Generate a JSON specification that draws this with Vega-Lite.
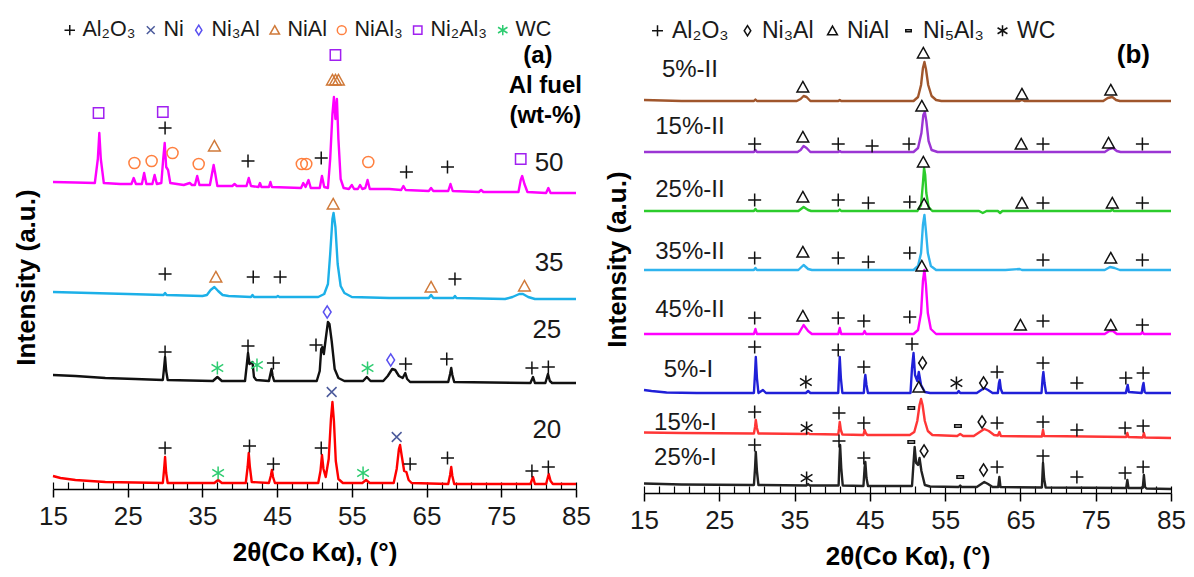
{
"$schema":"https://vega.github.io/schema/vega-lite/v6.json",
"padding":{"left":13,"top":8,"right":0,"bottom":0},
"spacing":13,
"config":{"font":"Liberation Sans","view":{"stroke":null},"axis":{"grid":false,"domainColor":"#000","tickColor":"#000","labelColor":"#1a1a1a","titleColor":"#000"}},
"datasets":{
"la":[
{"s":"50","x":15,"y":307},{"s":"50","x":18,"y":306.5},{"s":"50","x":20.6,"y":306},{"s":"50","x":21.0,"y":330},{"s":"50","x":21.2,"y":356},{"s":"50","x":21.4,"y":330},{"s":"50","x":21.8,"y":306},{"s":"50","x":24,"y":305},{"s":"50","x":25.5,"y":305},{"s":"50","x":25.8,"y":311},{"s":"50","x":26.1,"y":305},{"s":"50","x":26.9,"y":305},{"s":"50","x":27.2,"y":316},{"s":"50","x":27.5,"y":305},{"s":"50","x":28.3,"y":305},{"s":"50","x":28.6,"y":314},{"s":"50","x":28.9,"y":305},{"s":"50","x":29.5,"y":306},{"s":"50","x":29.75,"y":330},{"s":"50","x":29.95,"y":346},{"s":"50","x":30.15,"y":322},{"s":"50","x":30.4,"y":319},{"s":"50","x":30.7,"y":306},{"s":"50","x":32.5,"y":304},{"s":"50","x":33.3,"y":306},{"s":"50","x":33.6,"y":304},{"s":"50","x":34.0,"y":304},{"s":"50","x":34.3,"y":313},{"s":"50","x":34.6,"y":304},{"s":"50","x":36.0,"y":304},{"s":"50","x":36.3,"y":316},{"s":"50","x":36.5,"y":324},{"s":"50","x":36.7,"y":316},{"s":"50","x":37.0,"y":303},{"s":"50","x":39.0,"y":303},{"s":"50","x":39.3,"y":305},{"s":"50","x":39.6,"y":303},{"s":"50","x":40.9,"y":303},{"s":"50","x":41.2,"y":311},{"s":"50","x":41.5,"y":303},{"s":"50","x":42.5,"y":302},{"s":"50","x":42.7,"y":306},{"s":"50","x":42.9,"y":302},{"s":"50","x":43.9,"y":302},{"s":"50","x":44.1,"y":307},{"s":"50","x":44.3,"y":302},{"s":"50","x":48.2,"y":301},{"s":"50","x":48.5,"y":306},{"s":"50","x":48.8,"y":302},{"s":"50","x":49.2,"y":309},{"s":"50","x":49.5,"y":301},{"s":"50","x":50.7,"y":301},{"s":"50","x":51.0,"y":313},{"s":"50","x":51.3,"y":302},{"s":"50","x":51.8,"y":301},{"s":"50","x":52.1,"y":330},{"s":"50","x":52.4,"y":375},{"s":"50","x":52.6,"y":392},{"s":"50","x":52.8,"y":370},{"s":"50","x":53.0,"y":390},{"s":"50","x":53.2,"y":350},{"s":"50","x":53.5,"y":310},{"s":"50","x":53.9,"y":301},{"s":"50","x":54.6,"y":300},{"s":"50","x":55.0,"y":304},{"s":"50","x":55.3,"y":300},{"s":"50","x":55.8,"y":300},{"s":"50","x":56.1,"y":304},{"s":"50","x":56.4,"y":300},{"s":"50","x":56.8,"y":301},{"s":"50","x":57.1,"y":309},{"s":"50","x":57.4,"y":300},{"s":"50","x":60,"y":300},{"s":"50","x":61.6,"y":299},{"s":"50","x":61.9,"y":303},{"s":"50","x":62.2,"y":299},{"s":"50","x":65.3,"y":298},{"s":"50","x":65.6,"y":301},{"s":"50","x":65.9,"y":298},{"s":"50","x":67.9,"y":298},{"s":"50","x":68.2,"y":305},{"s":"50","x":68.5,"y":298},{"s":"50","x":72,"y":297},{"s":"50","x":72.3,"y":299},{"s":"50","x":72.6,"y":297},{"s":"50","x":77.3,"y":297},{"s":"50","x":77.6,"y":309},{"s":"50","x":77.8,"y":313},{"s":"50","x":78.1,"y":305},{"s":"50","x":78.5,"y":297},{"s":"50","x":81.0,"y":296},{"s":"50","x":81.3,"y":301},{"s":"50","x":81.6,"y":296},{"s":"50","x":85,"y":296},
{"s":"35","x":15,"y":197},{"s":"35","x":20,"y":196},{"s":"35","x":25,"y":195},{"s":"35","x":29.8,"y":194},{"s":"35","x":30.0,"y":196},{"s":"35","x":30.2,"y":194},{"s":"35","x":35.0,"y":193},{"s":"35","x":35.6,"y":194},{"s":"35","x":36.1,"y":199},{"s":"35","x":36.6,"y":202},{"s":"35","x":37.1,"y":198},{"s":"35","x":37.7,"y":194},{"s":"35","x":38.5,"y":193},{"s":"35","x":41.5,"y":192},{"s":"35","x":41.7,"y":194},{"s":"35","x":41.9,"y":192},{"s":"35","x":44.9,"y":192},{"s":"35","x":45.1,"y":193},{"s":"35","x":45.3,"y":192},{"s":"35","x":50.5,"y":192},{"s":"35","x":51.3,"y":195},{"s":"35","x":51.8,"y":205},{"s":"35","x":52.1,"y":235},{"s":"35","x":52.4,"y":270},{"s":"35","x":52.55,"y":276},{"s":"35","x":52.8,"y":262},{"s":"35","x":53.1,"y":225},{"s":"35","x":53.5,"y":203},{"s":"35","x":54.0,"y":196},{"s":"35","x":55.0,"y":192},{"s":"35","x":60,"y":191},{"s":"35","x":65.3,"y":191},{"s":"35","x":65.6,"y":194},{"s":"35","x":65.9,"y":191},{"s":"35","x":68.6,"y":191},{"s":"35","x":68.8,"y":193},{"s":"35","x":69.0,"y":191},{"s":"35","x":75.5,"y":190},{"s":"35","x":76.5,"y":192},{"s":"35","x":77.4,"y":195},{"s":"35","x":77.9,"y":195},{"s":"35","x":78.6,"y":192},{"s":"35","x":79.5,"y":190},{"s":"35","x":85,"y":190},
{"s":"25","x":15,"y":114},{"s":"25","x":18,"y":113},{"s":"25","x":22,"y":111},{"s":"25","x":26,"y":110},{"s":"25","x":29.7,"y":109},{"s":"25","x":29.85,"y":120},{"s":"25","x":30.0,"y":132},{"s":"25","x":30.15,"y":118},{"s":"25","x":30.35,"y":109},{"s":"25","x":36.4,"y":108},{"s":"25","x":37.0,"y":112},{"s":"25","x":37.6,"y":108},{"s":"25","x":40.7,"y":108},{"s":"25","x":40.95,"y":125},{"s":"25","x":41.1,"y":136},{"s":"25","x":41.3,"y":125},{"s":"25","x":41.55,"y":126},{"s":"25","x":41.7,"y":127},{"s":"25","x":41.9,"y":112},{"s":"25","x":42.2,"y":109},{"s":"25","x":43.9,"y":108},{"s":"25","x":44.1,"y":115},{"s":"25","x":44.25,"y":120},{"s":"25","x":44.4,"y":113},{"s":"25","x":44.6,"y":108},{"s":"25","x":50.3,"y":108},{"s":"25","x":50.7,"y":118},{"s":"25","x":50.9,"y":140},{"s":"25","x":51.05,"y":142},{"s":"25","x":51.25,"y":135},{"s":"25","x":51.5,"y":150},{"s":"25","x":51.8,"y":167},{"s":"25","x":52.0,"y":165},{"s":"25","x":52.3,"y":148},{"s":"25","x":52.7,"y":120},{"s":"25","x":53.2,"y":111},{"s":"25","x":54,"y":108},{"s":"25","x":56.5,"y":108},{"s":"25","x":57.0,"y":112},{"s":"25","x":57.5,"y":108},{"s":"25","x":59.2,"y":108},{"s":"25","x":59.8,"y":113},{"s":"25","x":60.4,"y":120},{"s":"25","x":60.8,"y":119},{"s":"25","x":61.3,"y":113},{"s":"25","x":61.8,"y":111},{"s":"25","x":62.15,"y":116},{"s":"25","x":62.4,"y":110},{"s":"25","x":62.8,"y":107},{"s":"25","x":67.9,"y":107},{"s":"25","x":68.15,"y":115},{"s":"25","x":68.3,"y":121},{"s":"25","x":68.45,"y":114},{"s":"25","x":68.7,"y":107},{"s":"25","x":78.9,"y":106},{"s":"25","x":79.25,"y":112},{"s":"25","x":79.5,"y":106},{"s":"25","x":80.9,"y":106},{"s":"25","x":81.25,"y":115},{"s":"25","x":81.5,"y":108},{"s":"25","x":81.8,"y":106},{"s":"25","x":85,"y":106},
{"s":"20","x":15,"y":13},{"s":"20","x":16,"y":11},{"s":"20","x":18,"y":9},{"s":"20","x":22,"y":7},{"s":"20","x":26,"y":6.5},{"s":"20","x":29.7,"y":6},{"s":"20","x":29.85,"y":18},{"s":"20","x":30.0,"y":32},{"s":"20","x":30.15,"y":16},{"s":"20","x":30.35,"y":6},{"s":"20","x":36.6,"y":6},{"s":"20","x":37.1,"y":9},{"s":"20","x":37.6,"y":6},{"s":"20","x":40.8,"y":6},{"s":"20","x":41.05,"y":22},{"s":"20","x":41.2,"y":36},{"s":"20","x":41.35,"y":22},{"s":"20","x":41.6,"y":7},{"s":"20","x":43.9,"y":6},{"s":"20","x":44.15,"y":13},{"s":"20","x":44.3,"y":19},{"s":"20","x":44.45,"y":12},{"s":"20","x":44.7,"y":6},{"s":"20","x":50.5,"y":6},{"s":"20","x":50.8,"y":18},{"s":"20","x":51.0,"y":34},{"s":"20","x":51.2,"y":20},{"s":"20","x":51.5,"y":12},{"s":"20","x":51.9,"y":30},{"s":"20","x":52.2,"y":70},{"s":"20","x":52.4,"y":87},{"s":"20","x":52.6,"y":68},{"s":"20","x":52.85,"y":28},{"s":"20","x":53.2,"y":10},{"s":"20","x":53.8,"y":6},{"s":"20","x":56.4,"y":6},{"s":"20","x":56.9,"y":9},{"s":"20","x":57.4,"y":6},{"s":"20","x":60.6,"y":6},{"s":"20","x":61.0,"y":20},{"s":"20","x":61.3,"y":40},{"s":"20","x":61.45,"y":44},{"s":"20","x":61.7,"y":32},{"s":"20","x":62.0,"y":18},{"s":"20","x":62.3,"y":17},{"s":"20","x":62.6,"y":9},{"s":"20","x":63.0,"y":6},{"s":"20","x":67.9,"y":5},{"s":"20","x":68.15,"y":14},{"s":"20","x":68.3,"y":22},{"s":"20","x":68.45,"y":13},{"s":"20","x":68.7,"y":5},{"s":"20","x":78.9,"y":5},{"s":"20","x":79.25,"y":12},{"s":"20","x":79.5,"y":5},{"s":"20","x":81.0,"y":5},{"s":"20","x":81.35,"y":15},{"s":"20","x":81.6,"y":8},{"s":"20","x":81.9,"y":5},{"s":"20","x":85,"y":5}
],
"ma":[
{"ph":"Ni₂Al₃","x":21.1,"y":376},{"ph":"Ni₂Al₃","x":29.7,"y":377},{"ph":"Ni₂Al₃","x":52.8,"y":434},{"ph":"Ni₂Al₃","x":77.6,"y":330},
{"ph":"NiAl","x":52.4,"y":409},{"ph":"NiAl","x":52.8,"y":409},{"ph":"NiAl","x":53.2,"y":409},{"ph":"NiAl","x":36.6,"y":343},
{"ph":"NiAl₃","x":25.9,"y":326},{"ph":"NiAl₃","x":28.2,"y":328},{"ph":"NiAl₃","x":31.0,"y":336},{"ph":"NiAl₃","x":34.5,"y":325},{"ph":"NiAl₃","x":48.3,"y":325},{"ph":"NiAl₃","x":48.9,"y":325},{"ph":"NiAl₃","x":57.2,"y":327},
{"ph":"Al₂O₃","x":30.0,"y":361},{"ph":"Al₂O₃","x":41.1,"y":328},{"ph":"Al₂O₃","x":50.9,"y":331},{"ph":"Al₂O₃","x":62.3,"y":317},{"ph":"Al₂O₃","x":67.8,"y":322},
{"ph":"Al₂O₃","x":30.0,"y":215},{"ph":"Al₂O₃","x":41.8,"y":212},{"ph":"Al₂O₃","x":45.4,"y":212},{"ph":"Al₂O₃","x":68.8,"y":210},
{"ph":"NiAl","x":36.8,"y":212},{"ph":"NiAl","x":52.5,"y":285},{"ph":"NiAl","x":65.6,"y":202},{"ph":"NiAl","x":78.1,"y":203},
{"ph":"Al₂O₃","x":30.0,"y":137},{"ph":"Al₂O₃","x":41.1,"y":143},{"ph":"Al₂O₃","x":44.5,"y":126},{"ph":"Al₂O₃","x":50.2,"y":144},{"ph":"Al₂O₃","x":62.2,"y":125},{"ph":"Al₂O₃","x":67.7,"y":130},{"ph":"Al₂O₃","x":79.1,"y":121},{"ph":"Al₂O₃","x":81.3,"y":122},
{"ph":"WC","x":37.0,"y":121},{"ph":"WC","x":42.3,"y":124},{"ph":"WC","x":57.1,"y":121},
{"ph":"Ni₃Al","x":51.7,"y":177},{"ph":"Ni₃Al","x":60.2,"y":129},
{"ph":"Al₂O₃","x":30.0,"y":41},{"ph":"Al₂O₃","x":41.3,"y":43},{"ph":"Al₂O₃","x":44.5,"y":25},{"ph":"Al₂O₃","x":50.9,"y":41},{"ph":"Al₂O₃","x":62.8,"y":25},{"ph":"Al₂O₃","x":67.8,"y":31},{"ph":"Al₂O₃","x":79.1,"y":18},{"ph":"Al₂O₃","x":81.3,"y":22},
{"ph":"WC","x":37.1,"y":16},{"ph":"WC","x":56.5,"y":16},
{"ph":"Ni","x":52.3,"y":97},{"ph":"Ni","x":61.0,"y":52}
],
"ta":[{"t":"50","x":81.4,"y":326},{"t":"35","x":81.4,"y":226},{"t":"25","x":81.1,"y":159},{"t":"20","x":81.1,"y":59}],
"tab":[{"t":"(a)","x":79.9,"y":433},{"t":"Al fuel","x":80.9,"y":403},{"t":"(wt-%)","x":80.9,"y":373}],
"lb":[
{"s":"5%-II","x":15,"y":393},{"s":"5%-II","x":20,"y":392},{"s":"5%-II","x":29.6,"y":392},{"s":"5%-II","x":29.8,"y":393.5},{"s":"5%-II","x":30.0,"y":392},{"s":"5%-II","x":35.3,"y":392},{"s":"5%-II","x":35.8,"y":394},{"s":"5%-II","x":36.2,"y":397},{"s":"5%-II","x":36.6,"y":396},{"s":"5%-II","x":37.1,"y":392},{"s":"5%-II","x":40.8,"y":392},{"s":"5%-II","x":41.0,"y":393},{"s":"5%-II","x":41.2,"y":392},{"s":"5%-II","x":50.8,"y":392},{"s":"5%-II","x":51.4,"y":396},{"s":"5%-II","x":51.8,"y":408},{"s":"5%-II","x":52.05,"y":425},{"s":"5%-II","x":52.25,"y":431},{"s":"5%-II","x":52.45,"y":424},{"s":"5%-II","x":52.75,"y":408},{"s":"5%-II","x":53.2,"y":397},{"s":"5%-II","x":53.8,"y":393},{"s":"5%-II","x":54.5,"y":392},{"s":"5%-II","x":64.9,"y":392},{"s":"5%-II","x":65.2,"y":393},{"s":"5%-II","x":65.5,"y":392},{"s":"5%-II","x":76.0,"y":392},{"s":"5%-II","x":76.6,"y":395},{"s":"5%-II","x":77.2,"y":396},{"s":"5%-II","x":77.7,"y":393},{"s":"5%-II","x":78.2,"y":392},{"s":"5%-II","x":85,"y":392},
{"s":"15%-II","x":15,"y":341},{"s":"15%-II","x":29.6,"y":341},{"s":"15%-II","x":29.8,"y":343},{"s":"15%-II","x":30.0,"y":341},{"s":"15%-II","x":35.4,"y":341},{"s":"15%-II","x":35.8,"y":343},{"s":"15%-II","x":36.2,"y":347},{"s":"15%-II","x":36.6,"y":345},{"s":"15%-II","x":37.1,"y":341},{"s":"15%-II","x":40.8,"y":341},{"s":"15%-II","x":41.0,"y":342},{"s":"15%-II","x":41.2,"y":341},{"s":"15%-II","x":50.8,"y":341},{"s":"15%-II","x":51.4,"y":345},{"s":"15%-II","x":51.85,"y":360},{"s":"15%-II","x":52.1,"y":378},{"s":"15%-II","x":52.3,"y":381},{"s":"15%-II","x":52.5,"y":372},{"s":"15%-II","x":52.8,"y":352},{"s":"15%-II","x":53.2,"y":343},{"s":"15%-II","x":54,"y":341},{"s":"15%-II","x":76.2,"y":341},{"s":"15%-II","x":76.8,"y":344},{"s":"15%-II","x":77.3,"y":345},{"s":"15%-II","x":77.8,"y":342},{"s":"15%-II","x":78.3,"y":341},{"s":"15%-II","x":85,"y":341},
{"s":"25%-II","x":15,"y":282},{"s":"25%-II","x":29.6,"y":282},{"s":"25%-II","x":29.8,"y":284},{"s":"25%-II","x":30.0,"y":282},{"s":"25%-II","x":35.5,"y":282},{"s":"25%-II","x":36.2,"y":286},{"s":"25%-II","x":36.8,"y":283},{"s":"25%-II","x":37.2,"y":282},{"s":"25%-II","x":40.8,"y":282},{"s":"25%-II","x":41.0,"y":283.5},{"s":"25%-II","x":41.2,"y":282},{"s":"25%-II","x":51.3,"y":282},{"s":"25%-II","x":51.8,"y":288},{"s":"25%-II","x":52.05,"y":310},{"s":"25%-II","x":52.2,"y":325},{"s":"25%-II","x":52.35,"y":318},{"s":"25%-II","x":52.5,"y":300},{"s":"25%-II","x":52.8,"y":286},{"s":"25%-II","x":53.3,"y":282},{"s":"25%-II","x":59.5,"y":282},{"s":"25%-II","x":60,"y":280},{"s":"25%-II","x":60.5,"y":282},{"s":"25%-II","x":62,"y":282},{"s":"25%-II","x":62.3,"y":280},{"s":"25%-II","x":62.6,"y":282},{"s":"25%-II","x":77,"y":282},{"s":"25%-II","x":77.2,"y":284},{"s":"25%-II","x":77.4,"y":282},{"s":"25%-II","x":85,"y":282},
{"s":"35%-II","x":15,"y":223},{"s":"35%-II","x":29.6,"y":223},{"s":"35%-II","x":29.8,"y":225},{"s":"35%-II","x":30.0,"y":223},{"s":"35%-II","x":35.5,"y":223},{"s":"35%-II","x":36.2,"y":228},{"s":"35%-II","x":36.8,"y":224},{"s":"35%-II","x":37.3,"y":223},{"s":"35%-II","x":50.8,"y":223},{"s":"35%-II","x":51.4,"y":227},{"s":"35%-II","x":51.8,"y":240},{"s":"35%-II","x":52.05,"y":268},{"s":"35%-II","x":52.25,"y":278},{"s":"35%-II","x":52.45,"y":262},{"s":"35%-II","x":52.7,"y":240},{"s":"35%-II","x":53.1,"y":227},{"s":"35%-II","x":53.8,"y":223},{"s":"35%-II","x":63,"y":223},{"s":"35%-II","x":64.9,"y":224},{"s":"35%-II","x":65.2,"y":223},{"s":"35%-II","x":76.2,"y":223},{"s":"35%-II","x":76.9,"y":226},{"s":"35%-II","x":77.5,"y":225},{"s":"35%-II","x":78.2,"y":223},{"s":"35%-II","x":85,"y":223},
{"s":"45%-II","x":15,"y":159},{"s":"45%-II","x":29.6,"y":159},{"s":"45%-II","x":29.8,"y":164},{"s":"45%-II","x":30.0,"y":159},{"s":"45%-II","x":35.5,"y":159},{"s":"45%-II","x":36.2,"y":168},{"s":"45%-II","x":36.8,"y":162},{"s":"45%-II","x":37.3,"y":159},{"s":"45%-II","x":40.8,"y":159},{"s":"45%-II","x":41.0,"y":165},{"s":"45%-II","x":41.2,"y":159},{"s":"45%-II","x":44.1,"y":159},{"s":"45%-II","x":44.3,"y":162},{"s":"45%-II","x":44.5,"y":159},{"s":"45%-II","x":50.8,"y":159},{"s":"45%-II","x":51.4,"y":163},{"s":"45%-II","x":51.8,"y":180},{"s":"45%-II","x":52.05,"y":212},{"s":"45%-II","x":52.25,"y":223},{"s":"45%-II","x":52.45,"y":208},{"s":"45%-II","x":52.7,"y":180},{"s":"45%-II","x":53.1,"y":164},{"s":"45%-II","x":53.8,"y":159},{"s":"45%-II","x":76.2,"y":159},{"s":"45%-II","x":76.8,"y":162},{"s":"45%-II","x":77.3,"y":162},{"s":"45%-II","x":77.8,"y":159},{"s":"45%-II","x":81.0,"y":159},{"s":"45%-II","x":81.2,"y":161},{"s":"45%-II","x":81.4,"y":159},{"s":"45%-II","x":85,"y":159},
{"s":"5%-I","x":15,"y":103},{"s":"5%-I","x":16,"y":102},{"s":"5%-I","x":18,"y":100.5},{"s":"5%-I","x":22,"y":100},{"s":"5%-I","x":29.6,"y":100},{"s":"5%-I","x":29.75,"y":120},{"s":"5%-I","x":29.85,"y":136},{"s":"5%-I","x":30.0,"y":115},{"s":"5%-I","x":30.2,"y":100},{"s":"5%-I","x":30.8,"y":103},{"s":"5%-I","x":31.2,"y":100},{"s":"5%-I","x":36.5,"y":100},{"s":"5%-I","x":36.8,"y":102},{"s":"5%-I","x":37.1,"y":100},{"s":"5%-I","x":40.8,"y":100},{"s":"5%-I","x":40.9,"y":120},{"s":"5%-I","x":41.0,"y":136},{"s":"5%-I","x":41.15,"y":115},{"s":"5%-I","x":41.35,"y":100},{"s":"5%-I","x":44.2,"y":100},{"s":"5%-I","x":44.3,"y":112},{"s":"5%-I","x":44.4,"y":118},{"s":"5%-I","x":44.55,"y":108},{"s":"5%-I","x":44.75,"y":100},{"s":"5%-I","x":50.4,"y":100},{"s":"5%-I","x":50.6,"y":125},{"s":"5%-I","x":50.8,"y":140},{"s":"5%-I","x":51.0,"y":118},{"s":"5%-I","x":51.3,"y":112},{"s":"5%-I","x":51.5,"y":121},{"s":"5%-I","x":51.8,"y":108},{"s":"5%-I","x":52.3,"y":101},{"s":"5%-I","x":53,"y":100},{"s":"5%-I","x":56.6,"y":100},{"s":"5%-I","x":56.8,"y":102},{"s":"5%-I","x":57.0,"y":100},{"s":"5%-I","x":59.2,"y":100},{"s":"5%-I","x":59.8,"y":103},{"s":"5%-I","x":60.2,"y":105},{"s":"5%-I","x":60.7,"y":103},{"s":"5%-I","x":61.3,"y":100},{"s":"5%-I","x":62.0,"y":100},{"s":"5%-I","x":62.15,"y":110},{"s":"5%-I","x":62.25,"y":113},{"s":"5%-I","x":62.4,"y":104},{"s":"5%-I","x":62.6,"y":100},{"s":"5%-I","x":67.8,"y":100},{"s":"5%-I","x":67.95,"y":115},{"s":"5%-I","x":68.05,"y":121},{"s":"5%-I","x":68.2,"y":110},{"s":"5%-I","x":68.4,"y":100},{"s":"5%-I","x":79.0,"y":100},{"s":"5%-I","x":79.15,"y":105},{"s":"5%-I","x":79.25,"y":108},{"s":"5%-I","x":79.4,"y":101},{"s":"5%-I","x":81.1,"y":100},{"s":"5%-I","x":81.25,"y":107},{"s":"5%-I","x":81.35,"y":110},{"s":"5%-I","x":81.5,"y":101},{"s":"5%-I","x":81.7,"y":100},{"s":"5%-I","x":85,"y":100},
{"s":"15%-I","x":15,"y":60.5},{"s":"15%-I","x":20,"y":60},{"s":"15%-I","x":29.6,"y":59.5},{"s":"15%-I","x":29.75,"y":66},{"s":"15%-I","x":29.85,"y":73},{"s":"15%-I","x":30.0,"y":65},{"s":"15%-I","x":30.2,"y":59.5},{"s":"15%-I","x":36.6,"y":59},{"s":"15%-I","x":36.8,"y":60},{"s":"15%-I","x":37.0,"y":59},{"s":"15%-I","x":40.8,"y":58.5},{"s":"15%-I","x":40.9,"y":64},{"s":"15%-I","x":41.0,"y":71},{"s":"15%-I","x":41.15,"y":63},{"s":"15%-I","x":41.35,"y":58.5},{"s":"15%-I","x":44.15,"y":58},{"s":"15%-I","x":44.3,"y":63},{"s":"15%-I","x":44.45,"y":60},{"s":"15%-I","x":44.65,"y":58},{"s":"15%-I","x":50.3,"y":58},{"s":"15%-I","x":50.9,"y":61},{"s":"15%-I","x":51.3,"y":72},{"s":"15%-I","x":51.6,"y":88},{"s":"15%-I","x":51.8,"y":94},{"s":"15%-I","x":52.0,"y":88},{"s":"15%-I","x":52.3,"y":72},{"s":"15%-I","x":52.7,"y":62},{"s":"15%-I","x":53.3,"y":58},{"s":"15%-I","x":56.6,"y":57},{"s":"15%-I","x":57.0,"y":59},{"s":"15%-I","x":57.4,"y":57},{"s":"15%-I","x":58.8,"y":57},{"s":"15%-I","x":59.6,"y":61},{"s":"15%-I","x":60.2,"y":64},{"s":"15%-I","x":60.8,"y":62},{"s":"15%-I","x":61.5,"y":58},{"s":"15%-I","x":62.0,"y":57.5},{"s":"15%-I","x":62.2,"y":61},{"s":"15%-I","x":62.4,"y":57},{"s":"15%-I","x":67.85,"y":56.5},{"s":"15%-I","x":68.0,"y":63},{"s":"15%-I","x":68.15,"y":57},{"s":"15%-I","x":79.05,"y":56},{"s":"15%-I","x":79.2,"y":60},{"s":"15%-I","x":79.35,"y":56},{"s":"15%-I","x":81.25,"y":55.5},{"s":"15%-I","x":81.4,"y":60},{"s":"15%-I","x":81.55,"y":55.5},{"s":"15%-I","x":85,"y":55},
{"s":"25%-I","x":15,"y":9.5},{"s":"25%-I","x":20,"y":8.5},{"s":"25%-I","x":29.6,"y":8},{"s":"25%-I","x":29.75,"y":25},{"s":"25%-I","x":29.85,"y":41},{"s":"25%-I","x":30.0,"y":22},{"s":"25%-I","x":30.2,"y":8},{"s":"25%-I","x":36.6,"y":7.5},{"s":"25%-I","x":36.8,"y":9},{"s":"25%-I","x":37.0,"y":7.5},{"s":"25%-I","x":40.85,"y":7.5},{"s":"25%-I","x":40.95,"y":30},{"s":"25%-I","x":41.05,"y":48},{"s":"25%-I","x":41.2,"y":25},{"s":"25%-I","x":41.4,"y":7.5},{"s":"25%-I","x":44.15,"y":7},{"s":"25%-I","x":44.3,"y":25},{"s":"25%-I","x":44.4,"y":31},{"s":"25%-I","x":44.55,"y":15},{"s":"25%-I","x":44.75,"y":7},{"s":"25%-I","x":50.6,"y":7},{"s":"25%-I","x":50.8,"y":30},{"s":"25%-I","x":50.95,"y":46},{"s":"25%-I","x":51.15,"y":30},{"s":"25%-I","x":51.4,"y":28},{"s":"25%-I","x":51.6,"y":35},{"s":"25%-I","x":51.85,"y":22},{"s":"25%-I","x":52.3,"y":8},{"s":"25%-I","x":53,"y":6.5},{"s":"25%-I","x":56.8,"y":6},{"s":"25%-I","x":57.0,"y":7.5},{"s":"25%-I","x":57.2,"y":6},{"s":"25%-I","x":59.2,"y":6},{"s":"25%-I","x":59.8,"y":9},{"s":"25%-I","x":60.2,"y":11},{"s":"25%-I","x":60.7,"y":9},{"s":"25%-I","x":61.3,"y":6},{"s":"25%-I","x":62.05,"y":6},{"s":"25%-I","x":62.2,"y":16},{"s":"25%-I","x":62.35,"y":6},{"s":"25%-I","x":67.85,"y":5.5},{"s":"25%-I","x":68.0,"y":30},{"s":"25%-I","x":68.15,"y":14},{"s":"25%-I","x":68.35,"y":5.5},{"s":"25%-I","x":79.05,"y":5},{"s":"25%-I","x":79.2,"y":13},{"s":"25%-I","x":79.35,"y":5},{"s":"25%-I","x":81.25,"y":5},{"s":"25%-I","x":81.4,"y":18},{"s":"25%-I","x":81.55,"y":6},{"s":"25%-I","x":81.75,"y":4.5},{"s":"25%-I","x":85,"y":4}
],
"mb":[
{"ph":"NiAl","x":36.1,"y":406},{"ph":"NiAl","x":52.1,"y":440},{"ph":"NiAl","x":65.2,"y":399},{"ph":"NiAl","x":77.0,"y":403},
{"ph":"Al₂O₃","x":29.7,"y":349},{"ph":"Al₂O₃","x":40.8,"y":349},{"ph":"Al₂O₃","x":45.3,"y":347},{"ph":"Al₂O₃","x":50.2,"y":349},{"ph":"Al₂O₃","x":68.0,"y":349},{"ph":"Al₂O₃","x":81.2,"y":349},
{"ph":"NiAl","x":36.1,"y":356},{"ph":"NiAl","x":51.9,"y":387},{"ph":"NiAl","x":65.1,"y":349},{"ph":"NiAl","x":76.7,"y":350},
{"ph":"Al₂O₃","x":29.7,"y":293},{"ph":"Al₂O₃","x":40.8,"y":293},{"ph":"Al₂O₃","x":44.8,"y":290},{"ph":"Al₂O₃","x":50.3,"y":291},{"ph":"Al₂O₃","x":68.0,"y":290},{"ph":"Al₂O₃","x":81.2,"y":290},
{"ph":"NiAl","x":36.1,"y":296},{"ph":"NiAl","x":52.1,"y":331},{"ph":"NiAl","x":65.2,"y":290},{"ph":"NiAl","x":77.2,"y":290},
{"ph":"Al₂O₃","x":29.7,"y":235},{"ph":"Al₂O₃","x":40.8,"y":235},{"ph":"Al₂O₃","x":44.8,"y":231},{"ph":"Al₂O₃","x":50.3,"y":240},{"ph":"Al₂O₃","x":68.0,"y":233},{"ph":"Al₂O₃","x":81.2,"y":233},
{"ph":"NiAl","x":36.1,"y":241},{"ph":"NiAl","x":52.2,"y":289},{"ph":"NiAl","x":77.0,"y":235},
{"ph":"Al₂O₃","x":29.7,"y":175},{"ph":"Al₂O₃","x":40.8,"y":175},{"ph":"Al₂O₃","x":44.2,"y":172},{"ph":"Al₂O₃","x":50.3,"y":176},{"ph":"Al₂O₃","x":68.0,"y":172},{"ph":"Al₂O₃","x":81.2,"y":168},
{"ph":"NiAl","x":36.1,"y":177},{"ph":"NiAl","x":51.9,"y":227},{"ph":"NiAl","x":65.0,"y":168},{"ph":"NiAl","x":77.0,"y":168},
{"ph":"Al₂O₃","x":29.7,"y":146},{"ph":"Al₂O₃","x":40.8,"y":143},{"ph":"Al₂O₃","x":44.2,"y":126},{"ph":"Al₂O₃","x":50.6,"y":149},{"ph":"Al₂O₃","x":61.9,"y":121},{"ph":"Al₂O₃","x":68.0,"y":130},{"ph":"Al₂O₃","x":72.5,"y":110},{"ph":"Al₂O₃","x":79.0,"y":115},{"ph":"Al₂O₃","x":81.3,"y":120},
{"ph":"WC","x":36.5,"y":111},{"ph":"WC","x":56.5,"y":110},{"ph":"Ni₃Al","x":52.0,"y":130},{"ph":"Ni₃Al","x":60.1,"y":110},{"ph":"NiAl","x":51.5,"y":106},
{"ph":"Al₂O₃","x":29.7,"y":81},{"ph":"Al₂O₃","x":40.9,"y":80},{"ph":"Al₂O₃","x":44.2,"y":70},{"ph":"Al₂O₃","x":61.9,"y":70},{"ph":"Al₂O₃","x":68.0,"y":71},{"ph":"Al₂O₃","x":72.5,"y":63},{"ph":"Al₂O₃","x":78.9,"y":65},{"ph":"Al₂O₃","x":81.3,"y":67},
{"ph":"WC","x":36.6,"y":65},{"ph":"Ni₅Al₃","x":50.5,"y":85},{"ph":"Ni₅Al₃","x":56.7,"y":67},{"ph":"Ni₃Al","x":59.9,"y":71},
{"ph":"Al₂O₃","x":29.7,"y":48},{"ph":"Al₂O₃","x":40.9,"y":52},{"ph":"Al₂O₃","x":44.2,"y":35},{"ph":"Al₂O₃","x":61.9,"y":26},{"ph":"Al₂O₃","x":68.0,"y":37},{"ph":"Al₂O₃","x":72.5,"y":16},{"ph":"Al₂O₃","x":78.9,"y":20},{"ph":"Al₂O₃","x":81.3,"y":26},
{"ph":"WC","x":36.6,"y":15},{"ph":"Ni₅Al₃","x":50.5,"y":51},{"ph":"Ni₅Al₃","x":57.0,"y":16},{"ph":"Ni₃Al","x":52.2,"y":42},{"ph":"Ni₃Al","x":60.1,"y":23}
],
"tb":[{"t":"5%-II","x":21.1,"y":423},{"t":"15%-II","x":21.1,"y":366},{"t":"25%-II","x":21.1,"y":303},{"t":"35%-II","x":21.1,"y":241},{"t":"45%-II","x":21.1,"y":183},{"t":"5%-I","x":20.9,"y":123},{"t":"15%-I","x":20.5,"y":70},{"t":"25%-I","x":20.5,"y":35}],
"tbb":[{"t":"(b)","x":80.0,"y":438}]
},
"hconcat":[
{
"width":523,"height":481,
"resolve":{"axis":{"x":"independent"}},
"layer":[
{"data":{"name":"la"},"mark":{"type":"line","strokeWidth":2.4,"strokeJoin":"round"},
 "encoding":{
  "x":{"field":"x","type":"quantitative","scale":{"domain":[15,85],"nice":false,"zero":false},"axis":{"orient":"bottom","offset":-7,"values":[15,17,19,21,23,25,27,29,31,33,35,37,39,41,43,45,47,49,51,53,55,57,59,61,63,65,67,69,71,73,75,77,79,81,83,85],"tickSize":7,"tickWidth":1.2,"labels":false,"domain":false,"title":null}},
  "y":{"field":"y","type":"quantitative","scale":{"domain":[0,481],"nice":false,"zero":false},"axis":{"title":"Intensity (a.u.)","domain":false,"ticks":false,"labels":false,"titleFontSize":26,"titleFontWeight":"bold","titlePadding":14,"titleY":269}},
  "stroke":{"field":"s","type":"nominal","scale":{"domain":["50","35","25","20"],"range":["#ff00ff","#1cb0e8","#111111","#ff0000"]},"legend":null}
 }},
{"data":{"name":"ma"},"mark":{"type":"point","filled":false,"opacity":1,"strokeWidth":1.5,"size":169},
 "encoding":{
  "x":{"field":"x","type":"quantitative","scale":{"domain":[15,85],"nice":false,"zero":false},"axis":{"orient":"bottom","values":[15,25,35,45,55,65,75,85],"tickSize":8,"tickWidth":1.5,"domainWidth":1.5,"labelFlush":false,"labelFontSize":26,"labelPadding":6,"title":"2θ(Co Kα), (°)","titleFontSize":26,"titleFontWeight":"bold","titlePadding":10}},
  "y":{"field":"y","type":"quantitative","scale":{"domain":[0,481],"nice":false,"zero":false},"axis":{"title":"Intensity (a.u.)","domain":false,"ticks":false,"labels":false,"titleFontSize":26,"titleFontWeight":"bold","titlePadding":14,"titleY":269}},
  "color":{"field":"ph","type":"nominal","scale":{"domain":["Al₂O₃","Ni","Ni₃Al","NiAl","NiAl₃","Ni₂Al₃","WC"],"range":["#111111","#4b5a9b","#5a50f0","#d07a3a","#ff8040","#a020f0","#2ecc71"]},"legend":{"orient":"none","legendX":6,"legendY":11,"direction":"horizontal","title":null,"labelFontSize":21.5,"symbolSize":110,"symbolStrokeWidth":1.5,"columnPadding":4,"labelOffset":2,"labelColor":"#1a1a1a"}},
  "shape":{"field":"ph","type":"nominal","scale":{"domain":["Al₂O₃","Ni","Ni₃Al","NiAl","NiAl₃","Ni₂Al₃","WC"],"range":["M-1,0H1M0,-1V1","M-0.75,-0.75L0.75,0.75M-0.75,0.75L0.75,-0.75","M0,-0.95L0.6,0L0,0.95L-0.6,0Z","M0,-0.85L0.9,0.75L-0.9,0.75Z","M0.85,0A0.85,0.85,0,1,1,-0.85,0A0.85,0.85,0,1,1,0.85,0Z","M-0.8,-0.8H0.8V0.8H-0.8Z","M0,-1V1M-0.9,-0.55L0.9,0.55M-0.9,0.55L0.9,-0.55"]},"legend":{"orient":"none","legendX":6,"legendY":11,"direction":"horizontal","title":null,"labelFontSize":21.5,"symbolSize":110,"symbolStrokeWidth":1.5,"columnPadding":4,"labelOffset":2,"labelColor":"#1a1a1a"}}
 }},
{"data":{"name":"ta"},"mark":{"type":"text","fontSize":26,"align":"center","baseline":"middle","color":"#1a1a1a"},
 "encoding":{"x":{"field":"x","type":"quantitative","axis":null},"y":{"field":"y","type":"quantitative"},"text":{"field":"t"}}},
{"data":{"name":"tab"},"mark":{"type":"text","fontSize":24,"fontWeight":"bold","align":"center","baseline":"middle","color":"#000"},
 "encoding":{"x":{"field":"x","type":"quantitative","axis":null},"y":{"field":"y","type":"quantitative"},"text":{"field":"t"}}}
]
},
{
"width":527,"height":485,
"resolve":{"axis":{"x":"independent"}},
"layer":[
{"data":{"name":"lb"},"mark":{"type":"line","strokeWidth":2.4,"strokeJoin":"round"},
 "encoding":{
  "x":{"field":"x","type":"quantitative","scale":{"domain":[15,85],"nice":false,"zero":false},"axis":{"orient":"bottom","offset":-7,"values":[15,17,19,21,23,25,27,29,31,33,35,37,39,41,43,45,47,49,51,53,55,57,59,61,63,65,67,69,71,73,75,77,79,81,83,85],"tickSize":7,"tickWidth":1.2,"labels":false,"domain":false,"title":null}},
  "y":{"field":"y","type":"quantitative","scale":{"domain":[0,485],"nice":false,"zero":false},"axis":{"title":"Intensity (a.u.)","domain":false,"ticks":false,"labels":false,"titleFontSize":26,"titleFontWeight":"bold","titlePadding":14,"titleY":251}},
  "stroke":{"field":"s","type":"nominal","scale":{"domain":["5%-II","15%-II","25%-II","35%-II","45%-II","5%-I","15%-I","25%-I"],"range":["#a0562c","#9b35d4","#2ccc2c","#2fb4ee","#ff00ff","#2020d8","#ff3636","#222222"]},"legend":null}
 }},
{"data":{"name":"mb"},"mark":{"type":"point","filled":false,"opacity":1,"strokeWidth":1.5,"size":169,"color":"#111111"},
 "encoding":{
  "x":{"field":"x","type":"quantitative","scale":{"domain":[15,85],"nice":false,"zero":false},"axis":{"orient":"bottom","values":[15,25,35,45,55,65,75,85],"tickSize":8,"tickWidth":1.5,"domainWidth":1.5,"labelFlush":false,"labelFontSize":26,"labelPadding":6,"title":"2θ(Co Kα), (°)","titleFontSize":26,"titleFontWeight":"bold","titlePadding":10}},
  "y":{"field":"y","type":"quantitative","scale":{"domain":[0,485],"nice":false,"zero":false},"axis":{"title":"Intensity (a.u.)","domain":false,"ticks":false,"labels":false,"titleFontSize":26,"titleFontWeight":"bold","titlePadding":14,"titleY":251}},
  "shape":{"field":"ph","type":"nominal","scale":{"domain":["Al₂O₃","Ni₃Al","NiAl","Ni₅Al₃","WC"],"range":["M-1,0H1M0,-1V1","M0,-0.95L0.6,0L0,0.95L-0.6,0Z","M0,-0.85L0.9,0.75L-0.9,0.75Z","M-0.5,-0.18H0.5V0.18H-0.5Z","M0,-1V1M-0.9,-0.55L0.9,0.55M-0.9,0.55L0.9,-0.55"]},"legend":{"orient":"none","legendX":2,"legendY":11,"direction":"horizontal","title":null,"labelFontSize":23,"symbolSize":120,"symbolStrokeWidth":1.5,"symbolStrokeColor":"#111","columnPadding":7,"labelOffset":3,"labelColor":"#1a1a1a"}}
 }},
{"data":{"name":"tb"},"mark":{"type":"text","fontSize":24,"align":"center","baseline":"middle","color":"#1a1a1a"},
 "encoding":{"x":{"field":"x","type":"quantitative","axis":null},"y":{"field":"y","type":"quantitative"},"text":{"field":"t"}}},
{"data":{"name":"tbb"},"mark":{"type":"text","fontSize":26,"fontWeight":"bold","align":"center","baseline":"middle","color":"#000"},
 "encoding":{"x":{"field":"x","type":"quantitative","axis":null},"y":{"field":"y","type":"quantitative"},"text":{"field":"t"}}}
]
}
],
"resolve":{"scale":{"x":"independent","y":"independent","color":"independent","shape":"independent","stroke":"independent"},"legend":{"color":"independent","shape":"independent","stroke":"independent"}}
}
